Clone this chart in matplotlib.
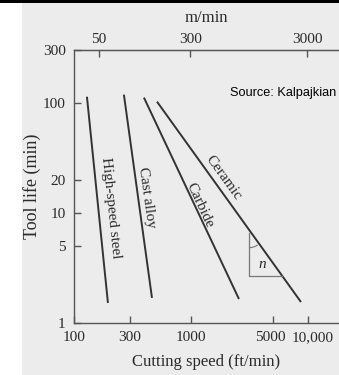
import numpy as np
import matplotlib
matplotlib.use("Agg")
import matplotlib.pyplot as plt
from matplotlib.patches import Arc, Rectangle
from matplotlib.transforms import IdentityTransform, ScaledTranslation

# ---- data ----
tools = ["High-speed steel", "Cast alloy", "Carbide", "Ceramic"]
speed_start = [129, 267, 396, 512]        # ft/min at top of line
speed_end = [195, 464, 2570, 8710]        # ft/min at bottom of line
life_start = [113, 118, 111, 102]         # min
life_end = [1.52, 1.69, 1.65, 1.55]       # min
label_x = [207, 421, 1194, 1880]
label_y = [11.0, 13.7, 11.8, 20.8]
label_rot = [-84, -82, -65, -54]

x_ticks = [100, 300, 1000, 5000, 10000]
x_ticklabels = ["100", "300", "1000", "5000", "10,000"]
y_ticks = [1, 5, 10, 20, 100, 300]
y_ticklabels = ["1", "5", "10", "20", "100", "300"]
top_ticks = [50, 300, 3000]
FT_PER_M = 3.281

tri_x = [3130, 6000]
tri_y = [2.67, 6.6]

W, H = 339, 375
fig = plt.figure(figsize=(W / 100, H / 100), dpi=100)
bg = "#ececec"
fig.patch.set_facecolor(bg)
fig.add_artist(Rectangle((0, 0), 22 / W, 1, transform=fig.transFigure,
                         facecolor="white", edgecolor="none", zorder=-5))
fig.add_artist(Rectangle((0, 1 - 3 / H), 1, 3 / H, transform=fig.transFigure,
                         facecolor="black", edgecolor="none", zorder=5))

ax = fig.add_axes([74 / W, 1 - 323 / H, 1 - 74 / W, (323 - 50) / H])
ax.set_facecolor(bg)
ax.set_xscale("log")
ax.set_yscale("log")
ax.set_xlim(100, 10 ** (2 + 265 / 117))
ax.set_ylim(1, 300)

serif = "Liberation Serif"
tc = "#2a2a2a"
lc = "#333333"
spc = "#555555"

for s0, s1, l0, l1, name, lx, ly, rot in zip(speed_start, speed_end, life_start,
                                               life_end, tools, label_x, label_y, label_rot):
    ax.plot([s0, s1], [l0, l1], color=lc, lw=1.4, solid_capstyle="butt")
    ax.text(lx, ly, name, rotation=rot, rotation_mode="anchor", ha="center",
            va="center", fontsize=11, family=serif, color=tc)

ax.spines["right"].set_visible(False)
for sp in ["left", "bottom", "top"]:
    ax.spines[sp].set_color(spc)
    ax.spines[sp].set_linewidth(1.0)

ax.set_xticks(x_ticks)
ax.set_xticklabels(x_ticklabels)
ax.set_yticks(y_ticks)
ax.set_yticklabels(y_ticklabels)
ax.minorticks_off()
ax.tick_params(axis="both", which="both", direction="in", length=5, width=1,
               color=spc, labelsize=11, labelcolor=tc, pad=6)
for lab in ax.get_xticklabels() + ax.get_yticklabels():
    lab.set_family(serif)
# small nudges so "5000" and "10,000" do not touch
xl = ax.get_xticklabels()
xl[3].set_transform(xl[3].get_transform() + ScaledTranslation(-2 / 100, 0, fig.dpi_scale_trans))
xl[4].set_transform(xl[4].get_transform() + ScaledTranslation(5 / 100, 0, fig.dpi_scale_trans))

ax.set_xlabel("Cutting speed (ft/min)", family=serif, fontsize=12, color=tc, labelpad=7)
ax.set_ylabel("Tool life (min)", family=serif, fontsize=13, color=tc, labelpad=1)

sec = ax.secondary_xaxis("top", functions=(lambda f: f / FT_PER_M, lambda m: m * FT_PER_M))
sec.set_xticks(top_ticks)
sec.set_xticklabels([str(t) for t in top_ticks])
sec.minorticks_off()
sec.tick_params(direction="in", length=5, width=1, color=spc,
                labelsize=11, labelcolor=tc, pad=3)
for lab in sec.get_xticklabels():
    lab.set_family(serif)
sec.spines["top"].set_color(spc)
sec.set_xlabel("m/min", family=serif, fontsize=12, color=tc, labelpad=8)

# triangle showing slope n on the ceramic line
ax.plot([tri_x[0], tri_x[0], tri_x[1]], [tri_y[1], tri_y[0], tri_y[0]],
        color="#777777", lw=0.9)
ax.text(np.sqrt(tri_x[0] * tri_x[1]) * 0.93, tri_y[0] * 1.26,
        "n", family=serif, style="italic", fontsize=11, color=tc, ha="center", va="center")

ax.text(2150, 123, "Source: Kalpajkian", family="Liberation Sans", fontsize=9.2,
        color="black", ha="left", va="center")

# angle arc at the triangle's top vertex
fig.canvas.draw()
v = ax.transData.transform((tri_x[0], tri_y[1]))
p0 = ax.transData.transform((speed_start[3], life_start[3]))
p1 = ax.transData.transform((speed_end[3], life_end[3]))
ang = np.degrees(np.arctan2(p1[1] - p0[1], p1[0] - p0[0])) % 360
fig.add_artist(Arc(v, 30, 30, theta1=270, theta2=ang, transform=IdentityTransform(),
                   color="#777777", lw=0.8))

fig.savefig("out.png", dpi=100, facecolor=bg)
